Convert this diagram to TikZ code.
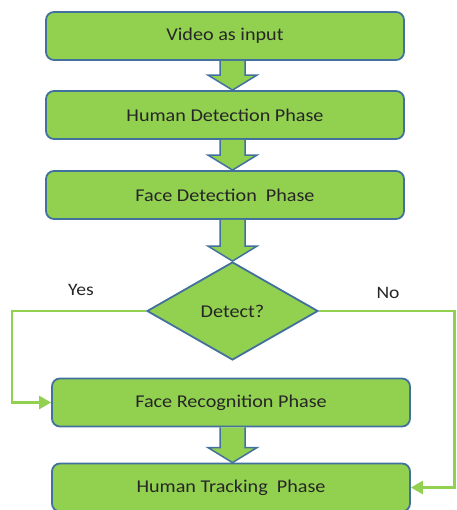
\documentclass[tikz,border=0pt]{standalone}
\usepackage{fontspec}
\usepackage{graphicx}
\setmainfont{Carlito}
\usetikzlibrary{shapes.geometric,arrows.meta,calc}
\definecolor{boxgreen}{HTML}{92D050}
\definecolor{boxblue}{HTML}{41719C}
\definecolor{linegreen}{HTML}{92D050}
\newcommand\wide[1]{\scalebox{1.12}[1]{#1}}
\tikzset{
  phase/.style={draw=boxblue, line width=1.8pt, fill=boxgreen, rounded corners=8pt,
    minimum width=358pt, minimum height=48pt, inner sep=0pt, font=\fontsize{18}{20}\selectfont, text=black!85},
  decide/.style={diamond, draw=boxblue, line width=1.8pt, fill=boxgreen,
    minimum width=171pt, minimum height=98pt, inner sep=0pt, font=\fontsize{18}{20}\selectfont, text=black!85},
  blk/.style={draw=boxblue, line width=1.5pt, fill=boxgreen, line join=miter},
  flow/.style={draw=linegreen, line width=2.8pt, -{Triangle[length=12pt,width=13pt]}},
  lbl/.style={font=\fontsize{17.5}{19}\selectfont, text=black!85}
}
\newcommand\blockarrow[2]{%
  \filldraw[blk] let \p1=(#1.south), \p2=(#2.north) in
    (220pt,\y1) -- (220pt,\y2+15pt) -- (208pt,\y2+15pt) -- (232.5pt,\y2) --
    (257pt,\y2+15pt) -- (245pt,\y2+15pt) -- (245pt,\y1);}
\begin{document}
\begin{tikzpicture}[x=1pt,y=-1pt]
\useasboundingbox (0,0) rectangle (456,510);
\node[phase] (v) at (225,36) {\wide{Video as input}};
\node[phase] (h) at (225,115) {\wide{Human Detection Phase}};
\node[phase] (f) at (225,195) {\wide{Face Detection~ Phase}};
\node[decide] (d) at (232.5,311) {\wide{Detect?}};
\node[phase] (r) at (231,402.5) {\wide{Face Recognition Phase}};
\node[phase] (t) at (231,487.5) {\wide{Human Tracking~ Phase}};
\blockarrow{v}{h}
\blockarrow{h}{f}
\blockarrow{f}{d}
\blockarrow{r}{t}
\coordinate (yl) at (12,311);
\coordinate (nr) at (454.5,311);
\draw[flow] (d.west) -- (yl) |- (r.west);
\draw[flow] (d.east) -- (nr) |- (t.east);
\node[lbl] (yes) at (81,290) {\wide{Yes}};
\node[lbl] (no) at (388,293) {\wide{No}};
\end{tikzpicture}
\end{document}
